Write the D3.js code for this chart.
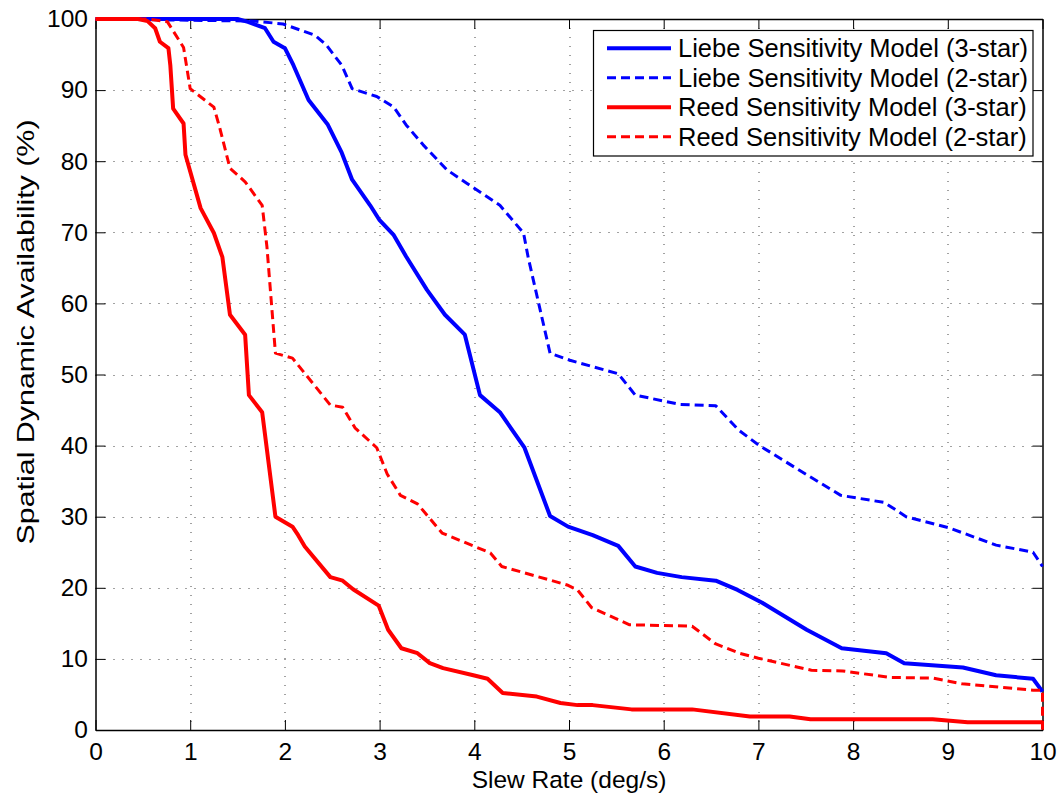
<!DOCTYPE html>
<html>
<head>
<meta charset="utf-8">
<script src="https://cdn.jsdelivr.net/npm/d3@7"></script>
<style>
  body { margin: 0; background: #fff; }
  text { font-family: "Liberation Sans", Arial, sans-serif; fill: #000; }
</style>
</head>
<body>
<script>
//------------ DATA ---------------------------------------------
const xTicks = [0, 1, 2, 3, 4, 5, 6, 7, 8, 9, 10];
const yTicks = [0, 10, 20, 30, 40, 50, 60, 70, 80, 90, 100];

const liebe3 = [
  [0, 100], [1.5, 100], [1.61, 99.6], [1.79, 98.7], [1.88, 96.8], [2.0, 95.9], [2.09, 93.5],
  [2.25, 88.6], [2.45, 85.2], [2.6, 81.2], [2.71, 77.4], [2.9, 73.8], [3.0, 71.7], [3.15, 69.6],
  [3.28, 66.6], [3.5, 61.9], [3.69, 58.4], [3.9, 55.6], [4.06, 47.1], [4.27, 44.7], [4.53, 39.7],
  [4.8, 30.1], [4.99, 28.6], [5.25, 27.4], [5.52, 25.9], [5.7, 23.0], [5.93, 22.1], [6.19, 21.5],
  [6.55, 21.0], [6.78, 19.7], [7.04, 17.9], [7.51, 14.1], [7.88, 11.5], [8.35, 10.8], [8.54, 9.4],
  [9.16, 8.8], [9.51, 7.7], [9.9, 7.2], [10, 5.4]
];
const liebe2 = [
  [0, 100], [1.69, 99.7], [1.98, 99.3], [2.32, 97.7], [2.44, 96.3], [2.6, 93.5], [2.71, 90.2],
  [2.97, 89.1], [3.15, 87.6], [3.28, 85.1], [3.46, 82.3], [3.71, 78.8], [3.92, 76.9], [4.27, 73.8],
  [4.52, 69.9], [4.57, 66.4], [4.8, 53.0], [5.01, 52.0], [5.52, 50.1], [5.7, 47.1], [6.17, 45.8],
  [6.55, 45.6], [6.79, 42.2], [7.0, 40.1], [7.51, 35.9], [7.87, 33.0], [8.33, 32.0], [8.56, 30.0],
  [9.02, 28.4], [9.51, 26.0], [9.9, 25.0], [10, 23.0]
];
const reed3 = [
  [0, 100], [0.45, 100], [0.55, 99.7], [0.63, 98.7], [0.68, 96.8], [0.77, 95.9], [0.79, 93.5],
  [0.82, 87.4], [0.93, 85.3], [0.95, 80.9], [1.11, 73.4], [1.25, 69.9], [1.34, 66.5], [1.42, 58.4],
  [1.58, 55.6], [1.62, 47.1], [1.76, 44.7], [1.9, 30.0], [2.08, 28.6], [2.14, 27.4], [2.21, 25.8],
  [2.48, 21.5], [2.61, 21.0], [2.72, 19.8], [2.99, 17.5], [3.09, 14.1], [3.23, 11.5], [3.4, 10.8],
  [3.53, 9.4], [3.67, 8.7], [3.99, 7.7], [4.14, 7.2], [4.3, 5.2], [4.66, 4.7], [4.91, 3.8],
  [5.09, 3.5], [5.25, 3.5], [5.66, 2.9], [6.3, 2.9], [6.91, 1.9], [7.33, 1.9], [7.55, 1.5],
  [8.84, 1.5], [9.21, 1.1], [10, 1.1]
];
const reed2 = [
  [0, 100], [0.55, 100], [0.76, 99.6], [0.93, 96.0], [1.0, 90.2], [1.25, 87.6], [1.31, 84.8],
  [1.42, 79.0], [1.58, 77.1], [1.76, 73.8], [1.81, 68.0], [1.9, 53.0], [2.08, 52.3], [2.48, 45.7],
  [2.61, 45.4], [2.74, 42.5], [2.97, 39.7], [3.08, 36.0], [3.22, 33.0], [3.4, 31.8], [3.66, 27.7],
  [4.17, 24.9], [4.29, 23.0], [4.98, 20.4], [5.09, 19.7], [5.24, 17.2], [5.64, 14.8], [6.3, 14.6],
  [6.55, 12.1], [6.8, 10.8], [7.0, 10.1], [7.56, 8.4], [7.89, 8.3], [8.39, 7.4], [8.84, 7.3],
  [9.15, 6.5], [9.9, 5.6], [10, 5.6], [10, 0]
];

const seriesNames = [
  "Liebe Sensitivity Model (3-star)",
  "Liebe Sensitivity Model (2-star)",
  "Reed Sensitivity Model (3-star)",
  "Reed Sensitivity Model (2-star)"
];
const seriesData = [liebe3, liebe2, reed3, reed2];
const seriesColors = ["#0000ff", "#0000ff", "#ff0000", "#ff0000"];
const seriesDash = [null, "9,5", null, "9,5"];
const seriesWidth = [4, 3, 4, 3];
//----------------------------------------------------

const W = 1061, H = 796;
const margin = { left: 95.5, right: 18.5, top: 19, bottom: 66 };
const iw = W - margin.left - margin.right,
    ih = H - margin.top - margin.bottom;

const svg = d3.select("body").append("svg")
    .attr("width", W)
    .attr("height", H);

const g = svg.append("g")
    .attr("transform", `translate(${margin.left},${margin.top})`);

const x = d3.scaleLinear().domain([0, 10]).range([0, iw]);
const y = d3.scaleLinear().domain([0, 100]).range([ih, 0]);

// dotted grid
g.append("g")
    .selectAll("line")
    .data(xTicks.slice(1, -1))
    .join("line")
    .attr("x1", d => Math.round(x(d)) + 0.5).attr("x2", d => Math.round(x(d)) + 0.5)
    .attr("y1", 0).attr("y2", ih)
    .attr("stroke", "#444").attr("stroke-width", 1).attr("stroke-dasharray", "1,8");
g.append("g")
    .selectAll("line")
    .data(yTicks.slice(1, -1))
    .join("line")
    .attr("y1", d => Math.round(y(d)) + 0.5).attr("y2", d => Math.round(y(d)) + 0.5)
    .attr("x1", 0).attr("x2", iw)
    .attr("stroke", "#444").attr("stroke-width", 1).attr("stroke-dasharray", "1,8");

// axes, ticks pointing in
const tickFont = 24.5;
const xAxis = g.append("g")
    .attr("transform", `translate(0,${ih})`)
    .call(d3.axisBottom(x).tickValues(xTicks).tickSizeInner(-10).tickSizeOuter(0).tickPadding(13));
const yAxis = g.append("g")
    .call(d3.axisLeft(y).tickValues(yTicks).tickSizeInner(-10).tickSizeOuter(0).tickPadding(7.5));
g.append("g")
    .call(d3.axisTop(x).tickValues(xTicks).tickSizeInner(-10).tickSizeOuter(0).tickFormat(""));
g.append("g")
    .attr("transform", `translate(${iw},0)`)
    .call(d3.axisRight(y).tickValues(yTicks).tickSizeInner(-10).tickSizeOuter(0).tickFormat(""));

g.selectAll(".domain").attr("stroke", "#000").attr("stroke-width", 1.5);
g.selectAll(".tick line").attr("stroke", "#000");
xAxis.selectAll("text").style("font-size", tickFont + "px").attr("fill", "#000");
yAxis.selectAll("text").style("font-size", tickFont + "px").attr("fill", "#000");

// lines
const line = d3.line().x(d => x(d[0])).y(d => y(d[1]));
seriesData.forEach(function(data, i) {
    g.append("path")
        .datum(data)
        .attr("fill", "none")
        .attr("stroke", seriesColors[i])
        .attr("stroke-width", seriesWidth[i])
        .attr("stroke-linejoin", "round")
        .attr("stroke-dasharray", seriesDash[i])
        .attr("d", line);
});

// legend
const lg = svg.append("g").attr("transform", "translate(593,30)");
lg.append("rect")
    .attr("x", 0.5).attr("y", 0.5)
    .attr("width", 439.5).attr("height", 125.5)
    .attr("fill", "#fff").attr("stroke", "#000").attr("stroke-width", 1.2);
seriesNames.forEach(function(name, i) {
    const ry = 18.3 + i * 29.5;
    lg.append("line")
        .attr("x1", 14).attr("x2", 78)
        .attr("y1", ry).attr("y2", ry)
        .attr("stroke", seriesColors[i])
        .attr("stroke-width", seriesWidth[i])
        .attr("stroke-dasharray", seriesDash[i]);
    lg.append("text")
        .attr("x", 85).attr("y", ry)
        .attr("dy", "0.36em")
        .style("font-size", "25.5px")
        .text(name);
});

// axis titles
svg.append("text")
    .attr("x", margin.left + iw / 2).attr("y", 788)
    .attr("text-anchor", "middle")
    .style("font-size", "24.5px")
    .text("Slew Rate (deg/s)");
svg.append("text")
    .attr("transform", `translate(34,332) rotate(-90)`)
    .attr("text-anchor", "middle")
    .attr("textLength", 425)
    .attr("lengthAdjust", "spacingAndGlyphs")
    .style("font-size", "24px")
    .text("Spatial Dynamic Availability (%)");
</script>
</body>
</html>
